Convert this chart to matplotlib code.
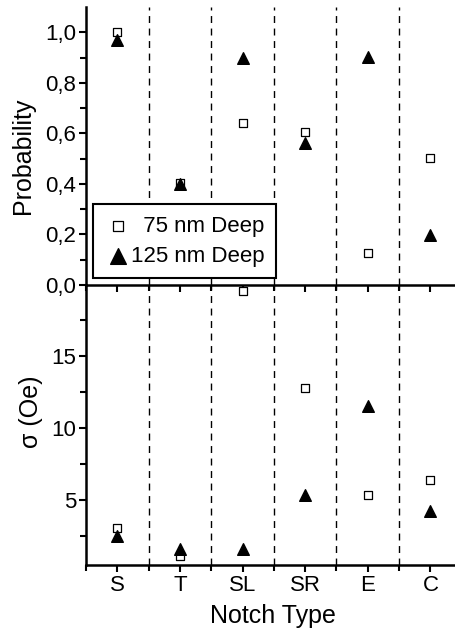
import matplotlib
matplotlib.use("Agg")
import matplotlib.pyplot as plt
from matplotlib.ticker import FixedLocator, FuncFormatter

plt.rcParams['font.family'] = ['Liberation Sans', 'DejaVu Sans']

categories = ["S", "T", "SL", "SR", "E", "C"]
prob_75 = [1.00, 0.405, 0.64, 0.604, 0.125, 0.503]
prob_125 = [0.968, 0.40, 0.897, 0.561, 0.903, 0.197]
sigma_75 = [3.1, 1.13, 19.5, 12.76, 5.35, 6.37]
sigma_125 = [2.52, 1.64, 1.62, 5.35, 11.53, 4.26]

W, H = 456, 632
fig = plt.figure(figsize=(W / 100, H / 100), dpi=100)

left = 86 / W
width = (461.7 - 86) / W
ax1 = fig.add_axes([left, 1 - 285 / H, width, (285 - 7) / H])
ax2 = fig.add_axes([left, 1 - 565 / H, width, (565 - 285) / H])

x = list(range(1, len(categories) + 1))

for ax in (ax1, ax2):
    ax.patch.set_visible(False)
    ax.set_xlim(0.5, 6.5)
    for b in [1.5, 2.5, 3.5, 4.5, 5.5]:
        ax.axvline(b, color='black', linestyle=(0, (5, 4)), linewidth=1.0, zorder=1)
    ax.spines['top'].set_visible(False)
    ax.spines['right'].set_visible(False)
    ax.spines['left'].set_linewidth(1.8)
    ax.spines['bottom'].set_linewidth(1.8)
    ax.xaxis.set_major_locator(FixedLocator(x))
    ax.xaxis.set_minor_locator(FixedLocator([0.5, 1.5, 2.5, 3.5, 4.5, 5.5]))
    ax.tick_params(axis='both', which='major', direction='out', length=5, width=1.5,
                   labelsize=16, pad=2)
    ax.tick_params(axis='both', which='minor', direction='out', length=4, width=1.5)

# Top: probability
ax1.scatter(x, prob_75, marker='s', s=30, facecolors='white', edgecolors='black',
            linewidths=0.9, zorder=3, label='  75 nm Deep')
ax1.scatter(x, prob_125, marker='^', s=70, color='black', zorder=4, label='125 nm Deep')
ax1.set_ylim(0, 1.1)
ax1.yaxis.set_major_locator(FixedLocator([0, 0.2, 0.4, 0.6, 0.8, 1.0]))
ax1.yaxis.set_minor_locator(FixedLocator([0.1, 0.3, 0.5, 0.7, 0.9]))
ax1.yaxis.set_major_formatter(FuncFormatter(lambda v, p: f"{v:.1f}".replace('.', ',')))
ax1.set_xticklabels([])
ax1.set_ylabel('Probability', fontsize=18)
ax1.yaxis.set_label_coords(-0.136, 0.464)
leg = ax1.legend(loc='lower left', bbox_to_anchor=(0.019, 0.025), fontsize=16,
                 frameon=True, fancybox=False, handletextpad=0.0, borderpad=0.5,
                 labelspacing=0.42, handlelength=1.2, borderaxespad=0, framealpha=1,
                 markerscale=1.35)
leg.get_frame().set_edgecolor('black')
leg.get_frame().set_linewidth(1.5)

# Bottom: sigma
ax2.scatter(x, sigma_75, marker='s', s=30, facecolors='white', edgecolors='black',
            linewidths=0.9, zorder=3, clip_on=False)
ax2.scatter(x, sigma_125, marker='^', s=70, color='black', zorder=4)
ax2.set_ylim(0.5, 19.93)
ax2.yaxis.set_major_locator(FixedLocator([5, 10, 15]))
ax2.yaxis.set_minor_locator(FixedLocator([2.5, 7.5, 12.5, 17.5]))
ax2.set_xticklabels(categories)
ax2.set_ylabel('σ (Oe)', fontsize=18)
ax2.yaxis.set_label_coords(-0.114, 0.547)
ax2.set_xlabel('Notch Type', fontsize=18)
ax2.xaxis.set_label_coords(0.498, -0.140)

fig.savefig('out.png', dpi=100)
